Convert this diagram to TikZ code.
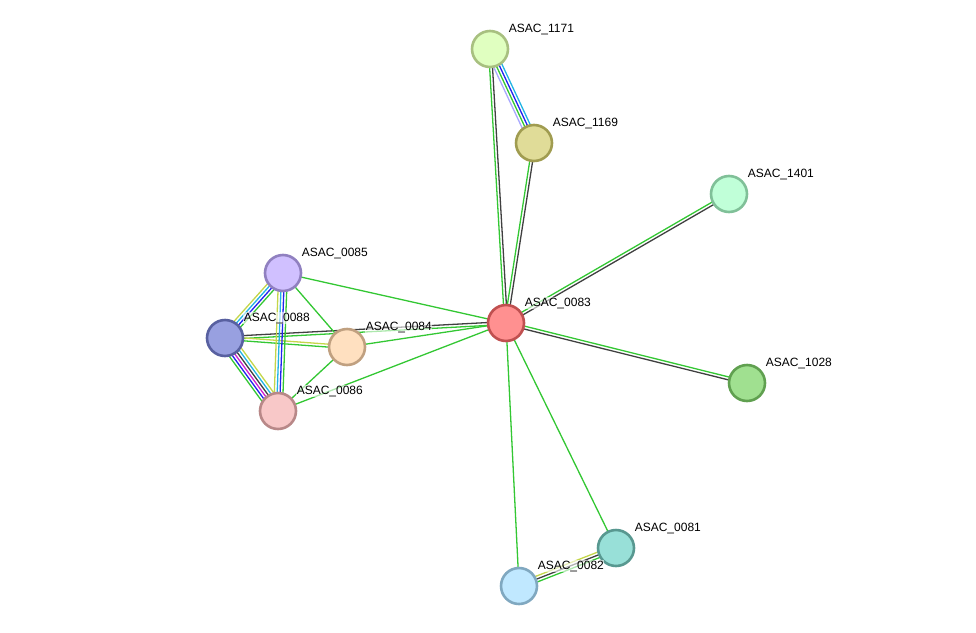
\documentclass[tikz,border=0pt]{standalone}
\usepackage{fontspec}
\setmainfont{Liberation Sans}
\usetikzlibrary{calc}
\pgfdeclarelayer{background}
\pgfsetlayers{background,main}
\definecolor{eg}{HTML}{33C733}
\definecolor{ek}{HTML}{404040}
\definecolor{eb}{HTML}{2222EE}
\definecolor{ec}{HTML}{22B4E4}
\definecolor{em}{HTML}{D020D0}
\definecolor{ey}{HTML}{C4D64A}
\definecolor{ep}{HTML}{A8A8FF}
\tikzset{
  prot/.style={circle, minimum size=36pt, inner sep=0pt, line width=2.6pt},
  lbl/.style={anchor=base west, font=\fontsize{12}{14}\selectfont, inner sep=0.6pt, fill=white, fill opacity=0.6, text opacity=1},
  edgeline/.style={line width=1.3pt}
}
\newcommand{\multiedge}[3]{%
  \foreach \cc [count=\ii] in {#3} {\xdef\nnn{\ii}}%
  \foreach \cc [count=\ii] in {#3} {%
    \pgfmathsetmacro\off{((\nnn+1)/2-\ii)*2.9}%
    \draw[edgeline, color=\cc] ($(#1.center)!\off pt!90:(#2.center)$) -- ($(#2.center)!\off pt!-90:(#1.center)$);
  }%
}
\begin{document}
\begin{tikzpicture}[x=1pt, y=-1pt]
\useasboundingbox (0,0) rectangle (976,632);
% nodes
\node[prot, draw={rgb,255:red,192;green,80;blue,80}, fill={rgb,255:red,255;green,144;blue,144}] (n0083) at (506,323) {};
\node[prot, draw={rgb,255:red,168;green,192;blue,128}, fill={rgb,255:red,224;green,255;blue,192}] (n1171) at (490,49) {};
\node[prot, draw={rgb,255:red,160;green,156;blue,80}, fill={rgb,255:red,224;green,220;blue,152}] (n1169) at (534,143) {};
\node[prot, draw={rgb,255:red,128;green,192;blue,152}, fill={rgb,255:red,192;green,255;blue,216}] (n1401) at (729,194) {};
\node[prot, draw={rgb,255:red,96;green,160;blue,80}, fill={rgb,255:red,160;green,224;blue,144}] (n1028) at (747,383) {};
\node[prot, draw={rgb,255:red,144;green,128;blue,192}, fill={rgb,255:red,208;green,192;blue,255}] (n0085) at (283,273) {};
\node[prot, draw={rgb,255:red,88;green,96;blue,160}, fill={rgb,255:red,152;green,160;blue,224}] (n0088) at (225,338) {};
\node[prot, draw={rgb,255:red,192;green,160;blue,128}, fill={rgb,255:red,255;green,224;blue,192}] (n0084) at (347,347) {};
\node[prot, draw={rgb,255:red,184;green,136;blue,136}, fill={rgb,255:red,248;green,200;blue,200}] (n0086) at (278,411) {};
\node[prot, draw={rgb,255:red,88;green,152;blue,144}, fill={rgb,255:red,152;green,224;blue,216}] (n0081) at (616,548) {};
\node[prot, draw={rgb,255:red,128;green,168;blue,192}, fill={rgb,255:red,192;green,232;blue,255}] (n0082) at (519,586) {};
% edges
\begin{pgfonlayer}{background}
\multiedge{n0083}{n1171}{eg,ek}
\multiedge{n0083}{n1169}{eg,ek}
\multiedge{n1171}{n1169}{ec,eb,eg,ep}
\multiedge{n0083}{n1401}{eg,ek}
\multiedge{n0083}{n1028}{eg,ek}
\multiedge{n0083}{n0081}{eg}
\multiedge{n0083}{n0082}{eg}
\multiedge{n0081}{n0082}{eg,ek,ey}
\multiedge{n0083}{n0085}{eg}
\multiedge{n0083}{n0088}{eg,ek}
\multiedge{n0083}{n0084}{eg}
\multiedge{n0083}{n0086}{eg}
\multiedge{n0088}{n0084}{ey,eg}
\multiedge{n0088}{n0085}{ey,ec,eb,eg}
\multiedge{n0088}{n0086}{ey,ec,ek,em,eb,eg}
\multiedge{n0085}{n0086}{eg,eb,ec,ey}
\multiedge{n0085}{n0084}{eg}
\multiedge{n0084}{n0086}{eg}
\end{pgfonlayer}
% labels
\foreach \n/\t in {n0083/ASAC\_0083, n1171/ASAC\_1171, n1169/ASAC\_1169, n1401/ASAC\_1401, n1028/ASAC\_1028, n0085/ASAC\_0085, n0088/ASAC\_0088, n0084/ASAC\_0084, n0086/ASAC\_0086, n0081/ASAC\_0081, n0082/ASAC\_0082}
  \node[lbl] (l\n) at ($(\n.center)+(18,-17)$) {\t};
\end{tikzpicture}
\end{document}
